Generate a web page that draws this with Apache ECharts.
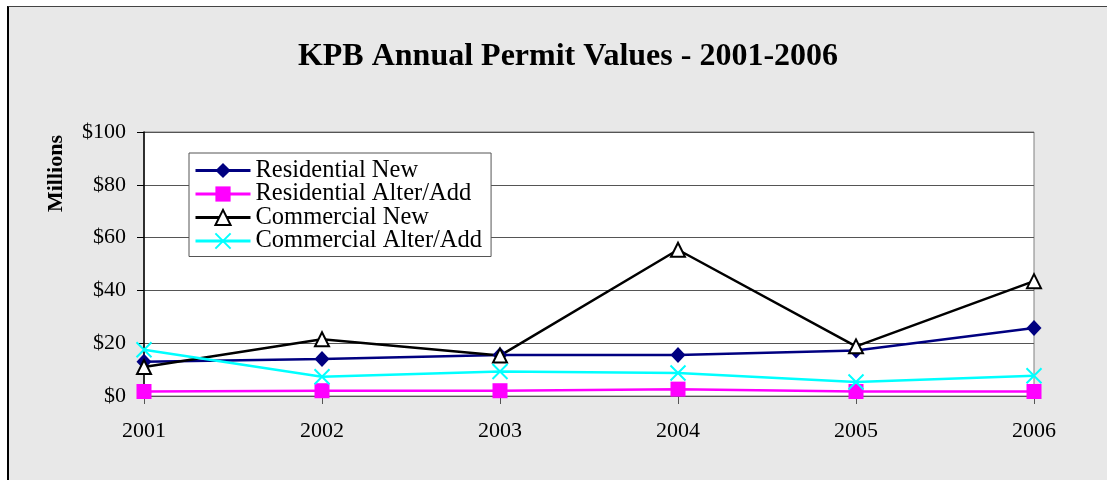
<!DOCTYPE html>
<html>
<head>
<meta charset="utf-8">
<script src="https://cdn.jsdelivr.net/npm/echarts@6/dist/echarts.min.js"></script>
<style>
    html, body { margin: 0; padding: 0; background: #fff; overflow: hidden; }
    #divFrame { position: absolute; left: 7px; top: 6px; width: 1200px; height: 600px;
        background: #e8e8e8; border-top: 1px solid #444; border-left: 2px solid #000; }
    #divChart { position: absolute; left: 0; top: 0; width: 1107px; height: 480px; }
</style>
</head>
<body>
<div id="divFrame"></div>
<div id="divChart"></div>
<script>
// values in millions of dollars
var arrYears = ['2001', '2002', '2003', '2004', '2005', '2006'];
var arrResNew = [13, 14, 15.5, 15.5, 17.2, 25.8];
var arrResAlter = [1.7, 2, 2, 2.6, 1.7, 1.7];
var arrComNew = [11, 21.5, 15.3, 55.4, 18.8, 43.5];
var arrComAlter = [17.5, 7.3, 9.3, 8.7, 5.3, 7.7];
var arrYTicks = [0, 20, 40, 60, 80, 100];

var strFont = '"Liberation Serif", "Times New Roman", serif';
var chartLine = echarts.init(document.getElementById('divChart'), null, { renderer: 'canvas' });

var optLine = {
    backgroundColor: 'transparent',
    animation: false,
    title: {
        text: 'KPB Annual Permit Values - 2001-2006',
        left: 563,
        textAlign: 'center',
        top: 36,
        textStyle: { fontFamily: strFont, fontSize: 32, fontWeight: 'bold', color: '#000' }
    },
    grid: {
        left: 144, right: 73, top: 132, bottom: 84,
        show: true, backgroundColor: '#fff', borderColor: '#808080', borderWidth: 1
    },
    legend: {
        orient: 'vertical',
        left: 189, top: 153,
        padding: [5, 9, 3, 5],
        itemGap: -1.5,
        itemWidth: 55, itemHeight: 19,
        backgroundColor: '#fff',
        borderColor: '#555', borderWidth: 1,
        lineStyle: { width: 3 },
        textStyle: { fontFamily: strFont, fontSize: 24.5, color: '#000' },
        data: ['Residential New', 'Residential Alter/Add', 'Commercial New', 'Commercial Alter/Add']
    },
    xAxis: {
        type: 'category',
        data: arrYears,
        boundaryGap: false,
        axisLine: { lineStyle: { color: '#555', width: 1 } },
        axisTick: { inside: false, length: 8, lineStyle: { color: '#555' } },
        axisLabel: { margin: 24, fontFamily: strFont, fontSize: 22, color: '#000' },
        splitLine: { show: false }
    },
    yAxis: {
        type: 'value',
        min: arrYTicks[0], max: arrYTicks[arrYTicks.length - 1], interval: 20,
        axisLine: { show: true, lineStyle: { color: '#000', width: 1.5 } },
        axisTick: { show: true, length: 7, lineStyle: { color: '#000' } },
        axisLabel: {
            margin: 18, fontFamily: strFont, fontSize: 22, color: '#000',
            formatter: function(v) { return '$' + v; }
        },
        splitLine: { lineStyle: { color: '#555', width: 1 } }
    },
    graphic: [{
        type: 'text',
        left: 45, top: 135,
        rotation: Math.PI / 2,
        style: { text: 'Millions', font: 'bold 22px ' + strFont, fill: '#000' }
    }],
    series: [{
        name: 'Residential New',
        type: 'line',
        data: arrResNew,
        symbol: 'diamond', symbolSize: [15, 16],
        lineStyle: { color: '#000080', width: 2.5 },
        itemStyle: { color: '#000080' }
    }, {
        name: 'Residential Alter/Add',
        type: 'line',
        data: arrResAlter,
        symbol: 'rect', symbolSize: 15,
        lineStyle: { color: '#ff00ff', width: 2.5 },
        itemStyle: { color: '#ff00ff' }
    }, {
        name: 'Commercial New',
        type: 'line',
        data: arrComNew,
        symbol: 'triangle', symbolSize: 14,
        lineStyle: { color: '#000', width: 2.5 },
        itemStyle: { color: '#fff', borderColor: '#000', borderWidth: 2 }
    }, {
        name: 'Commercial Alter/Add',
        type: 'line',
        data: arrComAlter,
        symbol: 'path://M0,0L10,10M10,0L0,10', symbolSize: 15,
        lineStyle: { color: '#00ffff', width: 2.5 },
        itemStyle: { color: '#00ffff', borderColor: '#00ffff', borderWidth: 2 }
    }]
};
chartLine.setOption(optLine);
</script>
</body>
</html>
